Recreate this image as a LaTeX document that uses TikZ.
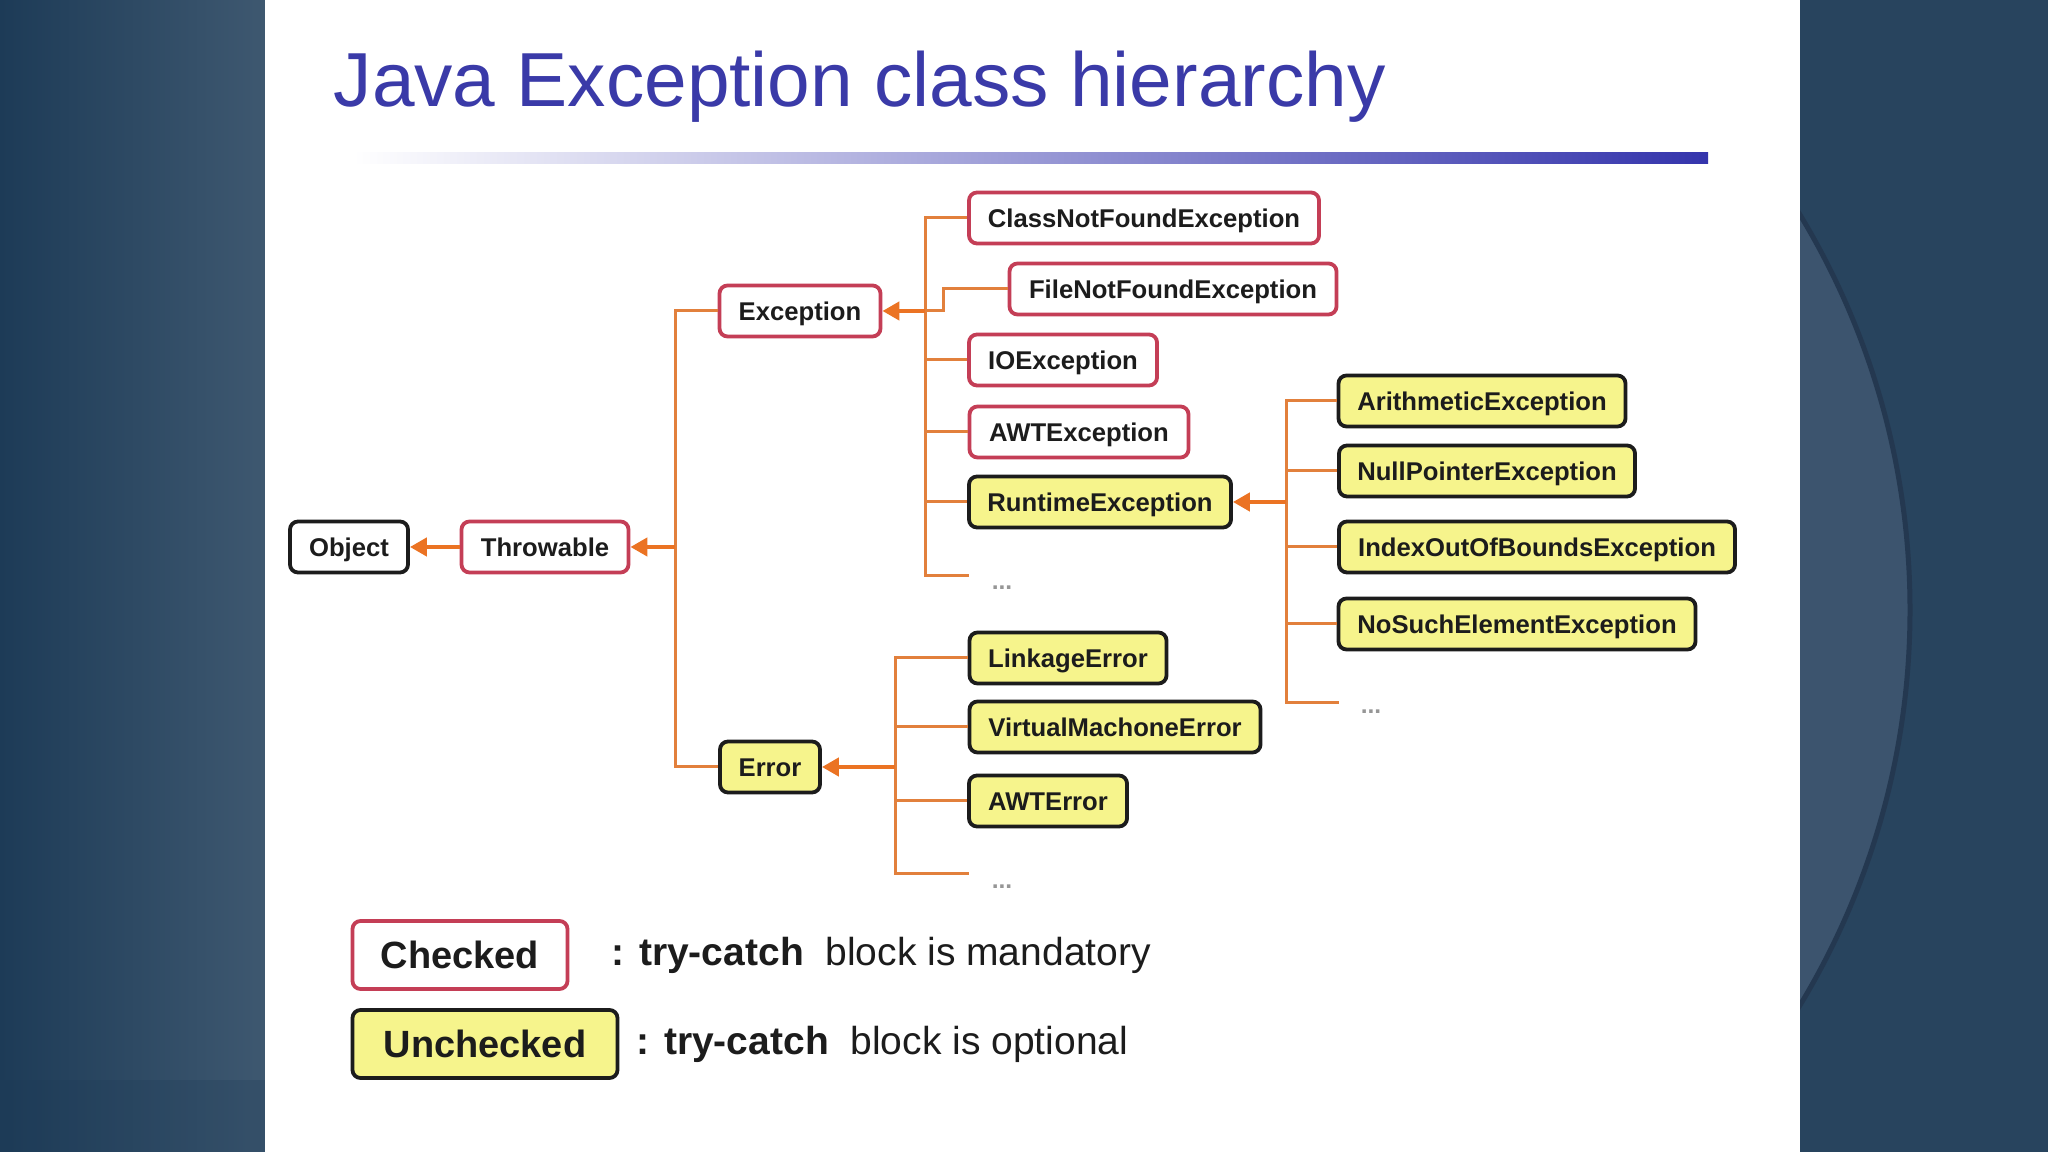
\documentclass[tikz,border=0pt]{standalone}
\usepackage{fontspec}
\setmainfont{Liberation Sans}
\usetikzlibrary{arrows.meta,positioning,calc}
\definecolor{JehRose}{RGB}{196,62,86}
\definecolor{JehInk}{RGB}{28,28,28}
\definecolor{JehYellow}{RGB}{246,244,140}
\definecolor{JehOrange}{RGB}{226,128,60}
\definecolor{JehArrow}{RGB}{235,115,35}
\definecolor{JehTitle}{RGB}{58,58,168}
\definecolor{JehBar}{RGB}{52,52,172}
\definecolor{JehDots}{RGB}{150,150,150}
\definecolor{JehPanelDark}{RGB}{29,59,87}
\definecolor{JehPanelLight}{RGB}{62,88,112}
\definecolor{JehPanelRight}{RGB}{40,68,94}
\definecolor{JehCircle}{RGB}{60,84,110}
\definecolor{JehCircleEdge}{RGB}{36,56,80}
\tikzset{
  jeh/box/.style={
    draw=JehInk,
    line width=0.38mm,
    rounded corners=0.8mm,
    fill=white,
    align=center,
    text=JehInk,
    minimum height=5.1mm,
    inner xsep=1.5mm,
    inner ysep=0.8mm,
    text height=2.5mm,
    text depth=0.65mm,
    font=\fontsize{7.3}{8}\selectfont\bfseries
  },
  jeh/checked/.style={jeh/box, draw=JehRose},
  jeh/unchecked/.style={jeh/box, fill=JehYellow},
  jeh/legendbox/.style={minimum height=6.8mm, text height=3.5mm, text depth=0.76mm,
    font=\fontsize{10.8}{12}\selectfont\bfseries},
  jeh/link/.style={line width=0.3mm, draw=JehOrange},
  jeh/arrow/.style={-{Triangle[length=1.7mm,width=1.8mm]}, line width=0.45mm, draw=JehArrow},
  jeh/more/.style={font=\fontsize{7}{8}\selectfont\bfseries, text=JehDots, inner sep=0pt},
  jeh/title/.style={font=\fontsize{21.8}{26}\selectfont, text=JehTitle, inner sep=0pt, anchor=base west},
  jeh/legend/.style={font=\fontsize{11.1}{12}\selectfont, text=JehInk, inner sep=0pt, anchor=west}
}

\begin{document}
\begin{tikzpicture}[x=0.1mm,y=-0.1mm]
  \useasboundingbox (0,0) rectangle (2048,1152);
  % slide background
  \shade[left color=JehPanelDark, right color=JehPanelLight] (0,0) rectangle (265,1152);
  \fill[JehPanelDark, opacity=0.25] (0,1080) rectangle (265,1152);
  \fill[JehPanelRight] (1800,0) rectangle (2048,1152);
  \begin{scope}
    \clip (1800,0) rectangle (2048,1152);
    \fill[JehCircle] (1146,610) circle[radius=764];
    \draw[JehCircleEdge, line width=0.5mm] (1146,610) circle[radius=764];
  \end{scope}
  \fill[white] (265,0) rectangle (1800,1152);

  % title
  \node[jeh/title] (title) at (333,107) {Java Exception class hierarchy};
  \shade[left color=white, right color=JehBar] (353,153) rectangle (1708,164);

  % hierarchy
  \node[jeh/box,minimum width=11.8mm] (obj) at (349,547) {Object};
  \node[jeh/checked,minimum width=16.7mm] (thr) at (545,547) {Throwable};
  \node[jeh/checked,minimum width=16.1mm] (exc) at (800,311) {Exception};
  \node[jeh/unchecked,minimum width=10.0mm] (err) at (770,767) {Error};

  \node[jeh/checked,minimum width=35.0mm] (cnf) at (1144,218) {ClassNotFoundException};
  \node[jeh/checked,minimum width=32.7mm] (fnf) at (1173,289) {FileNotFoundException};
  \node[jeh/checked,minimum width=18.8mm] (ioe) at (1063,360) {IOException};
  \node[jeh/checked,minimum width=21.9mm] (awte) at (1079,432) {AWTException};
  \node[jeh/unchecked,minimum width=26.2mm] (rte) at (1100,502) {RuntimeException};
  \node[jeh/more] (excMore) at (1002,588) {...};

  \node[jeh/unchecked,minimum width=28.7mm] (arith) at (1482,401) {ArithmeticException};
  \node[jeh/unchecked,minimum width=29.6mm] (npe) at (1487,471) {NullPointerException};
  \node[jeh/unchecked,minimum width=39.6mm] (ioobe) at (1537,547) {IndexOutOfBoundsException};
  \node[jeh/unchecked,minimum width=35.7mm] (nsee) at (1517,624) {NoSuchElementException};
  \node[jeh/more] (rteMore) at (1371,712) {...};

  \node[jeh/unchecked,minimum width=19.7mm] (link) at (1068,658) {LinkageError};
  \node[jeh/unchecked,minimum width=29.1mm] (vme) at (1115,727) {VirtualMachoneError};
  \node[jeh/unchecked,minimum width=15.8mm] (awterr) at (1048,801) {AWTError};
  \node[jeh/more] (errMore) at (1002,887) {...};

  % buses
  \coordinate (thrBus) at (675,547);
  \coordinate (excBus) at (925,311);
  \coordinate (excEnd) at (969,576);
  \coordinate (rteBus) at (1286,502);
  \coordinate (rteEnd) at (1339,703);
  \coordinate (errBus) at (895,767);
  \coordinate (errEnd) at (969,874);

  \draw[jeh/link] (exc.west) -| (thrBus) |- (err.west);
  \draw[jeh/arrow] (thrBus) -- (thr.east);
  \draw[jeh/arrow] (thr.west) -- (obj.east);

  \draw[jeh/link] (cnf.west) -| (excBus) |- (excEnd);
  \draw[jeh/link] (excBus) -- ++(18,0) |- (fnf.west);
  \draw[jeh/link] (excBus |- ioe) -- (ioe.west);
  \draw[jeh/link] (excBus |- awte) -- (awte.west);
  \draw[jeh/link] (excBus |- rte) -- (rte.west);
  \draw[jeh/arrow] (excBus) -- (exc.east);

  \draw[jeh/link] (arith.west) -| (rteBus) |- (rteEnd);
  \draw[jeh/link] (rteBus |- npe) -- (npe.west);
  \draw[jeh/link] (rteBus |- ioobe) -- (ioobe.west);
  \draw[jeh/link] (rteBus |- nsee) -- (nsee.west);
  \draw[jeh/arrow] (rteBus) -- (rte.east);

  \draw[jeh/link] (link.west) -| (errBus) |- (errEnd);
  \draw[jeh/link] (errBus |- vme) -- (vme.west);
  \draw[jeh/link] (errBus |- awterr) -- (awterr.west);
  \draw[jeh/arrow] (errBus) -- (err.east);

  % legend
  \node[jeh/checked,jeh/legendbox,minimum width=21.5mm] (chk) at (460,955) {Checked};
  \node[jeh/unchecked,jeh/legendbox,minimum width=26.5mm] (unchk) at (485,1044) {Unchecked};
  \node[jeh/legend] (chkText) at (611,955) {\textbf{: try-catch}\ \ block is mandatory};
  \node[jeh/legend] (unchkText) at (636,1044) {\textbf{: try-catch}\ \ block is optional};
\end{tikzpicture}
\end{document}
